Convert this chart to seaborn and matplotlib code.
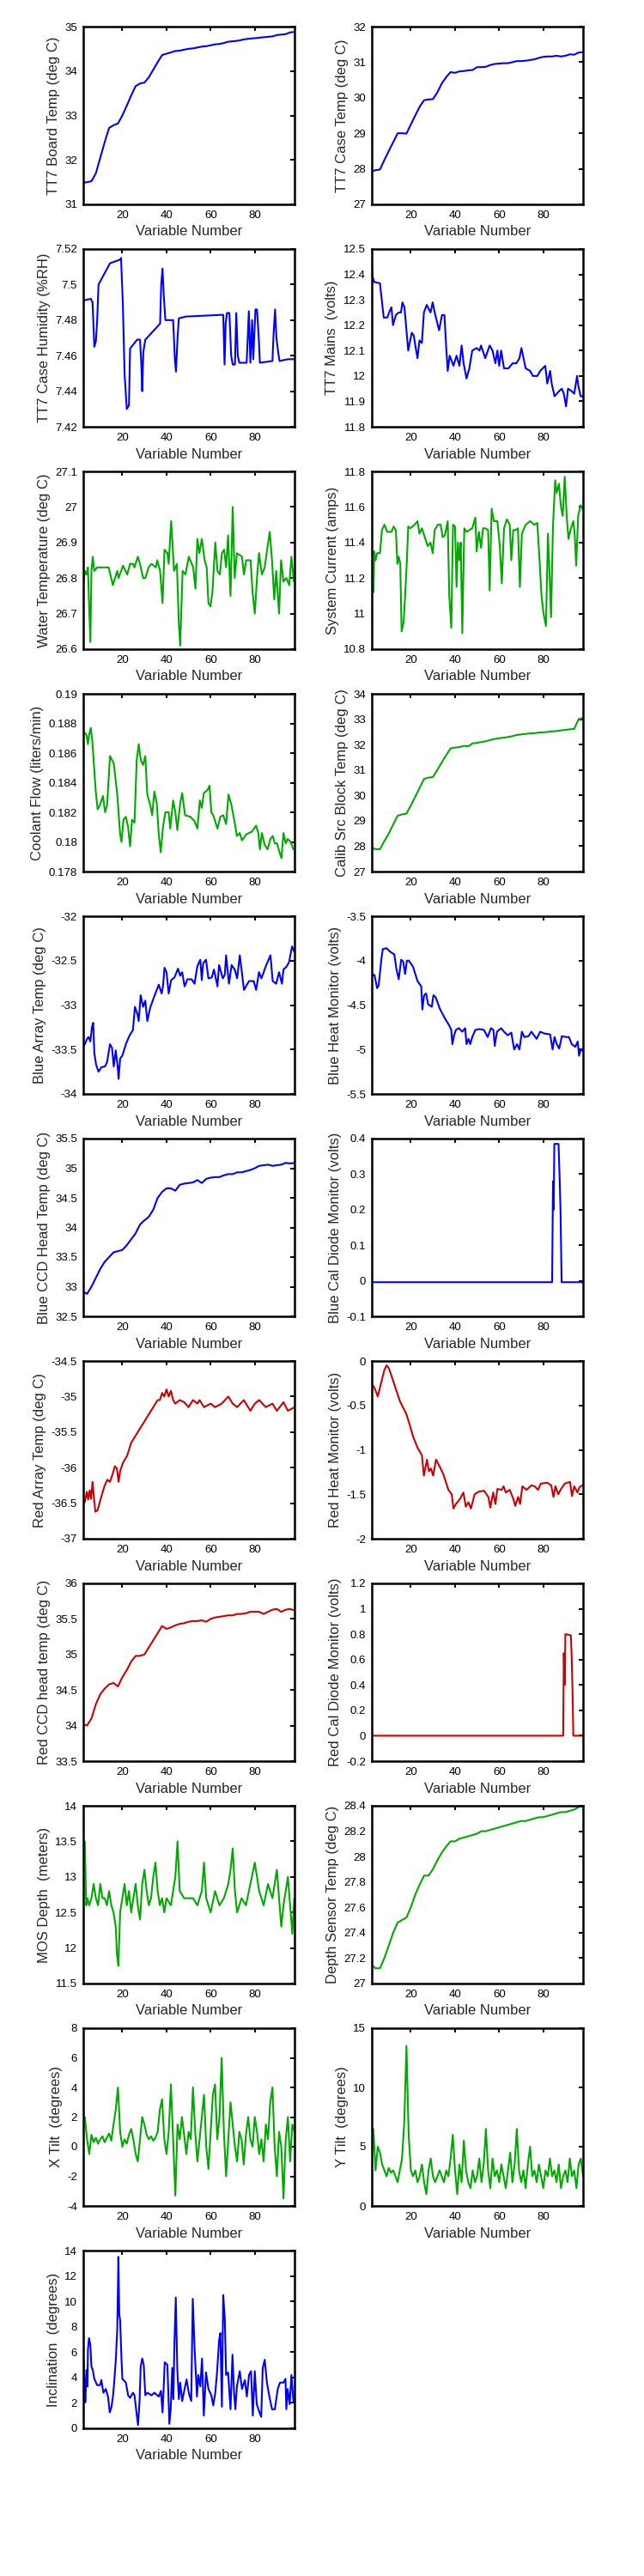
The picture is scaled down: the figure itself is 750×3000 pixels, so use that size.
import numpy as np
import matplotlib
matplotlib.use("Agg")
import matplotlib.pyplot as plt
import seaborn as sns
from matplotlib.ticker import FuncFormatter

sns.set_style("white")
plt.rcParams["font.family"] = ["Liberation Sans", "DejaVu Sans"]
plt.rcParams["axes.unicode_minus"] = False

BLUE = "#0000FF"
GREEN = "#00AA00"
RED = "#CC0000"

# variable number grid for the smooth temperature channels
X2 = np.arange(2, 99, 2)
X1 = np.arange(2, 99)

board_y = [31.48, 31.50, 31.52, 31.70, 32.05, 32.40, 32.72, 32.78, 32.82, 33.00,
           33.22, 33.45, 33.66, 33.72, 33.74, 33.86, 34.03, 34.20, 34.36, 34.39,
           34.42, 34.45, 34.46, 34.48, 34.50, 34.51, 34.53, 34.55, 34.56, 34.58,
           34.60, 34.61, 34.63, 34.66, 34.67, 34.68, 34.70, 34.72, 34.73, 34.74,
           34.75, 34.76, 34.77, 34.78, 34.81, 34.82, 34.83, 34.87, 34.88]

case_y = [27.93, 27.96, 27.98, 28.25, 28.50, 28.75, 29.00, 29.00, 28.99, 29.25,
          29.50, 29.75, 29.93, 29.95, 29.96, 30.15, 30.40, 30.58, 30.72, 30.70,
          30.74, 30.75, 30.77, 30.78, 30.86, 30.86, 30.87, 30.92, 30.95, 30.96,
          30.97, 30.97, 31.00, 31.03, 31.03, 31.04, 31.06, 31.08, 31.12, 31.15,
          31.16, 31.16, 31.18, 31.16, 31.18, 31.22, 31.21, 31.27, 31.28]

hum_x = [2.3, 5.7, 6.5, 7.3, 8.0, 8.6, 9.2, 14.4, 19.0, 19.4,
         20.2, 21.0, 22.0, 23.0, 23.5, 26.7, 28.0, 28.6, 29.0, 29.5,
         30.4, 37.1, 37.6, 38.2, 38.7, 39.5, 43.0, 43.8, 44.3, 45.0,
         45.6, 48.8, 65.7, 66.3, 66.8, 67.4, 68.5, 69.3, 70.0, 71.0,
         71.6, 72.3, 73.0, 76.3, 76.8, 77.3, 78.0, 78.8, 79.3, 80.3,
         81.0, 81.8, 82.3, 88.0, 88.5, 89.2, 89.8, 90.6, 91.2, 95.0,
         97.9]
hum_y = [7.491, 7.492, 7.490, 7.465, 7.468, 7.480, 7.500, 7.512, 7.514, 7.515,
         7.490, 7.450, 7.430, 7.432, 7.464, 7.469, 7.469, 7.455, 7.440, 7.462,
         7.469, 7.478, 7.500, 7.509, 7.495, 7.480, 7.480, 7.458, 7.451, 7.470,
         7.481, 7.482, 7.483, 7.455, 7.478, 7.484, 7.484, 7.460, 7.455, 7.455,
         7.484, 7.460, 7.456, 7.456, 7.470, 7.485, 7.456, 7.480, 7.458, 7.486,
         7.486, 7.470, 7.456, 7.457, 7.472, 7.486, 7.470, 7.462, 7.457, 7.458,
         7.458]

mains_x = [2.1, 2.7, 3.4, 6.0, 7.7, 9.3, 10.6, 11.2, 11.9, 13.2,
           14.5, 15.5, 16.2, 17.1, 17.8, 18.8, 20.4, 21.3, 22.4, 23.0,
           23.9, 25.0, 25.9, 27.2, 28.9, 29.9, 30.8, 32.2, 32.8, 34.1,
           35.2, 36.1, 36.7, 37.6, 39.3, 40.7, 42.0, 43.0, 43.9, 45.2,
           46.5, 47.8, 49.8, 51.1, 51.8, 53.7, 55.7, 57.0, 58.3, 59.2,
           60.0, 60.9, 62.2, 64.2, 66.1, 67.8, 69.2, 70.1, 72.0, 74.0,
           75.3, 77.3, 78.6, 80.9, 81.8, 83.1, 83.8, 85.1, 87.1, 88.4,
           89.3, 90.3, 91.2, 92.9, 94.0, 95.3, 95.9, 96.9, 98.2]
mains_y = [12.45, 12.39, 12.37, 12.365, 12.23, 12.23, 12.26, 12.27, 12.20, 12.24,
           12.25, 12.25, 12.29, 12.27, 12.20, 12.10, 12.17, 12.16, 12.10, 12.07,
           12.14, 12.13, 12.25, 12.28, 12.25, 12.29, 12.25, 12.20, 12.18, 12.24,
           12.24, 12.10, 12.02, 12.08, 12.04, 12.08, 12.04, 12.12, 12.05, 11.99,
           12.03, 12.10, 12.11, 12.10, 12.12, 12.07, 12.12, 12.10, 12.05, 12.10,
           12.04, 12.10, 12.03, 12.03, 12.05, 12.05, 12.07, 12.11, 12.03, 12.02,
           12.00, 12.00, 12.02, 12.04, 11.97, 12.02, 11.97, 11.92, 11.94, 11.95,
           11.93, 11.88, 11.95, 11.94, 11.93, 12.00, 11.96, 11.92, 11.92]

water_x = [2.5, 3.0, 3.8, 4.4, 4.9, 5.5, 6.0, 6.6, 7.3, 8.6,
           13.8, 15.7, 17.7, 18.3, 20.3, 22.2, 23.5, 24.8, 25.5, 27.0,
           28.0, 29.4, 30.4, 31.9, 33.2, 35.2, 35.8, 37.1, 38.2, 39.1,
           40.4, 41.0, 42.1, 42.7, 43.4, 44.7, 45.6, 46.2, 47.3, 48.6,
           50.1, 52.1, 53.1, 54.0, 54.9, 56.0, 57.3, 58.2, 59.0, 59.9,
           60.8, 62.1, 63.1, 64.2, 65.1, 66.1, 67.0, 67.9, 69.0, 70.0,
           70.9, 71.9, 74.2, 75.1, 76.1, 78.1, 79.0, 80.0, 81.0, 81.9,
           83.2, 84.5, 85.8, 86.8, 87.8, 88.8, 89.7, 91.0, 91.9, 93.0,
           94.3, 95.6, 96.6, 97.7]
water_y = [26.79, 26.82, 26.81, 26.83, 26.73, 26.62, 26.82, 26.86, 26.82, 26.83,
           26.83, 26.78, 26.82, 26.80, 26.835, 26.81, 26.84, 26.84, 26.83, 26.86,
           26.84, 26.80, 26.80, 26.83, 26.84, 26.83, 26.85, 26.82, 26.73, 26.88,
           26.87, 26.84, 26.96, 26.90, 26.82, 26.84, 26.67, 26.61, 26.82, 26.81,
           26.86, 26.83, 26.77, 26.91, 26.87, 26.91, 26.85, 26.83, 26.73, 26.72,
           26.76, 26.90, 26.82, 26.81, 26.87, 26.88, 26.83, 26.92, 26.75, 27.00,
           26.80, 26.87, 26.86, 26.81, 26.85, 26.85, 26.76, 26.70, 26.80, 26.87,
           26.81, 26.83, 26.89, 26.93, 26.85, 26.74, 26.82, 26.70, 26.85, 26.79,
           26.80, 26.78, 26.86, 26.79]

cur_x = [2.1, 2.5, 3.1, 3.4, 4.0, 4.7, 6.0, 6.9, 8.0, 9.3,
         11.2, 12.2, 13.2, 13.9, 14.5, 15.2, 15.8, 16.7, 17.4, 18.2,
         18.8, 19.7, 21.7, 23.0, 23.9, 25.0, 26.3, 27.6, 28.9, 29.9,
         30.8, 32.2, 33.5, 34.4, 35.4, 36.7, 37.4, 38.3, 39.1, 40.0,
         40.7, 41.3, 42.0, 42.6, 43.3, 44.2, 45.2, 46.5, 47.8, 49.2,
         49.8, 50.8, 51.8, 52.7, 53.7, 55.0, 55.7, 56.6, 57.6, 59.2,
         60.3, 61.2, 62.2, 63.5, 64.8, 65.5, 66.4, 67.5, 68.5, 69.4,
         70.3, 72.0, 74.0, 75.9, 77.3, 78.3, 79.2, 80.1, 81.2, 82.1,
         82.9, 83.5, 84.4, 85.4, 86.1, 87.1, 88.0, 88.8, 89.7, 90.6,
         91.4, 92.3, 93.6, 94.2, 94.9, 95.8, 96.9, 98.2]
cur_y = [10.96, 11.35, 11.12, 11.35, 11.30, 11.34, 11.34, 11.47, 11.50, 11.46,
         11.46, 11.49, 11.47, 11.28, 11.32, 11.28, 10.90, 10.95, 11.10, 11.30,
         11.49, 11.48, 11.50, 11.52, 11.45, 11.48, 11.43, 11.38, 11.40, 11.34,
         11.47, 11.50, 11.50, 11.43, 11.44, 11.52, 11.10, 10.92, 11.50, 11.49,
         11.15, 11.40, 11.30, 11.40, 10.89, 11.48, 11.46, 11.47, 11.48, 11.54,
         11.35, 11.46, 11.37, 11.48, 11.48, 11.47, 11.13, 11.59, 11.52, 11.52,
         11.38, 11.17, 11.48, 11.53, 11.50, 11.30, 11.47, 11.47, 11.48, 11.15,
         11.45, 11.50, 11.52, 11.50, 11.51, 11.30, 11.10, 11.00, 10.93, 11.45,
         11.20, 10.98, 11.50, 11.75, 11.68, 11.73, 11.60, 11.55, 11.77, 11.55,
         11.42, 11.47, 11.52, 11.45, 11.27, 11.55, 11.61, 11.58]

cool_x = [2.7, 3.8, 4.4, 4.9, 5.7, 6.4, 7.0, 7.9, 8.8, 9.9,
          11.2, 12.2, 13.1, 14.4, 16.1, 17.7, 19.0, 19.6, 20.5, 21.6,
          22.6, 23.5, 24.4, 25.5, 26.5, 27.4, 28.4, 29.4, 30.4, 31.3,
          32.6, 33.5, 34.5, 35.6, 36.5, 37.4, 38.4, 39.5, 41.0, 41.7,
          43.0, 44.0, 44.9, 46.2, 47.1, 48.4, 50.8, 52.7, 54.0, 55.1,
          56.0, 56.9, 58.6, 59.5, 60.3, 61.2, 63.1, 64.4, 65.7, 67.0,
          68.1, 69.4, 70.9, 71.9, 73.2, 74.2, 76.1, 78.7, 80.6, 81.6,
          82.3, 83.2, 84.5, 85.8, 87.1, 88.1, 89.1, 90.1, 91.0, 92.1,
          93.0, 94.0, 94.9, 96.2, 97.5]
cool_y = [0.1874, 0.1872, 0.1866, 0.1872, 0.1877, 0.1868, 0.1855, 0.1835, 0.1822, 0.1825,
          0.1831, 0.1820, 0.1825, 0.1858, 0.1853, 0.1832, 0.1805, 0.1800, 0.1815, 0.1817,
          0.1810, 0.1797, 0.1815, 0.1813, 0.1855, 0.1866, 0.1855, 0.1852, 0.1858, 0.1832,
          0.1825, 0.1818, 0.1834, 0.1826, 0.1805, 0.1793, 0.1810, 0.1820, 0.1820, 0.1809,
          0.1828, 0.1820, 0.1808, 0.1826, 0.1833, 0.1818, 0.1817, 0.1814, 0.1809, 0.1828,
          0.1823, 0.1833, 0.1835, 0.1838, 0.1820, 0.1818, 0.1809, 0.1817, 0.1818, 0.1812,
          0.1832, 0.1825, 0.1813, 0.1804, 0.1806, 0.1801, 0.1805, 0.1807, 0.1811, 0.1806,
          0.1795, 0.1806, 0.1798, 0.1795, 0.1802, 0.1804, 0.1799, 0.1799, 0.1794, 0.1789,
          0.1806, 0.1799, 0.1802, 0.1800, 0.1795]

calib_y = [27.95, 27.88, 27.88, 28.20, 28.50, 28.85, 29.20, 29.25, 29.28, 29.60,
           29.95, 30.30, 30.65, 30.70, 30.72, 31.00, 31.30, 31.58, 31.85, 31.88,
           31.90, 31.95, 31.93, 32.05, 32.07, 32.10, 32.13, 32.18, 32.22, 32.25,
           32.27, 32.30, 32.33, 32.38, 32.40, 32.42, 32.44, 32.45, 32.47, 32.48,
           32.50, 32.52, 32.53, 32.56, 32.58, 32.60, 32.62, 33.00, 33.05]

ba_x = [2.5, 3.0, 4.0, 4.7, 5.5, 6.2, 6.8, 7.3, 8.1, 9.2,
        10.5, 12.2, 13.1, 14.4, 15.3, 16.1, 17.0, 17.9, 18.3, 19.0,
        20.0, 21.6, 23.1, 24.8, 25.7, 26.8, 27.4, 28.3, 29.4, 30.4,
        31.3, 32.6, 34.5, 36.5, 37.8, 38.4, 39.1, 40.0, 41.0, 42.1,
        43.6, 45.2, 46.2, 47.1, 48.2, 49.5, 51.4, 52.7, 54.0, 55.3,
        56.0, 56.6, 57.9, 59.0, 60.5, 61.5, 63.1, 63.8, 64.4, 65.5,
        66.4, 67.0, 68.3, 69.5, 70.9, 72.0, 73.2, 74.0, 75.1, 77.4,
        79.5, 80.6, 81.9, 83.0, 85.2, 87.1, 88.1, 89.7, 91.0, 92.3,
        93.0, 94.3, 95.5, 96.9, 97.9]
ba_y = [-33.45, -33.44, -33.38, -33.36, -33.41, -33.25, -33.20, -33.54, -33.67, -33.75,
        -33.70, -33.69, -33.64, -33.44, -33.48, -33.69, -33.51, -33.70, -33.83, -33.60,
        -33.57, -33.44, -33.35, -33.28, -33.02, -33.10, -33.18, -32.89, -33.02, -32.95,
        -33.18, -33.03, -32.90, -32.77, -32.87, -32.79, -32.58, -32.63, -32.87, -32.72,
        -32.69, -32.59, -32.67, -32.63, -32.79, -32.71, -32.71, -32.76, -32.56, -32.49,
        -32.72, -32.53, -32.49, -32.70, -32.69, -32.60, -32.79, -32.55, -32.60, -32.70,
        -32.66, -32.44, -32.76, -32.55, -32.60, -32.70, -32.44, -32.60, -32.83, -32.73,
        -32.73, -32.83, -32.63, -32.70, -32.55, -32.44, -32.73, -32.76, -32.63, -32.76,
        -32.60, -32.57, -32.52, -32.34, -32.40]

bh_x = [2.1, 3.1, 3.5, 4.7, 5.4, 6.0, 6.7, 7.3, 9.0, 10.6,
        12.5, 13.5, 14.5, 15.6, 16.5, 17.4, 18.2, 19.1, 21.0, 23.0,
        24.7, 25.2, 26.0, 26.9, 27.8, 29.5, 30.2, 31.2, 33.1, 35.4,
        37.4, 38.3, 38.8, 39.6, 40.4, 41.7, 43.3, 44.6, 45.2, 46.1,
        46.9, 47.8, 49.2, 51.1, 53.1, 54.8, 56.3, 57.4, 58.0, 59.0,
        60.9, 62.2, 63.9, 65.5, 66.8, 68.1, 69.2, 70.3, 71.4, 73.3,
        74.6, 77.0, 78.6, 80.5, 83.1, 84.2, 85.1, 86.1, 87.2, 88.4,
        90.3, 91.6, 92.9, 94.5, 95.6, 96.2, 96.9, 98.2]
bh_y = [-4.16, -4.16, -4.16, -4.31, -4.28, -4.14, -3.97, -3.87, -3.86, -3.90,
        -3.93, -4.10, -4.21, -3.99, -4.01, -4.15, -4.00, -4.00, -4.07, -4.23,
        -4.29, -4.55, -4.39, -4.37, -4.49, -4.52, -4.39, -4.41, -4.54, -4.65,
        -4.73, -4.78, -4.94, -4.84, -4.78, -4.76, -4.80, -4.76, -4.94, -4.88,
        -4.94, -4.86, -4.78, -4.77, -4.78, -4.86, -4.76, -4.78, -4.96, -4.80,
        -4.76, -4.80, -4.84, -4.81, -5.00, -4.94, -5.00, -4.80, -4.86, -4.85,
        -4.80, -4.88, -4.80, -4.82, -4.83, -5.00, -4.86, -4.94, -4.99, -4.85,
        -4.86, -4.86, -4.94, -4.97, -4.91, -5.07, -5.00, -5.02]

bccd_y = [32.92, 32.88, 33.00, 33.15, 33.30, 33.42, 33.50, 33.58, 33.60, 33.62,
          33.70, 33.80, 33.90, 34.05, 34.12, 34.18, 34.30, 34.50, 34.60, 34.66,
          34.66, 34.62, 34.72, 34.74, 34.75, 34.76, 34.80, 34.75, 34.82, 34.84,
          34.85, 34.85, 34.88, 34.90, 34.90, 34.93, 34.93, 34.95, 34.97, 35.00,
          35.04, 35.05, 35.06, 35.04, 35.05, 35.06, 35.09, 35.08, 35.09]

bd_x = [2.2, 84.0, 84.4, 84.7, 85.0, 86.9, 87.3, 87.8, 88.3, 98.1]
bd_y = [-0.004, -0.004, 0.28, 0.20, 0.385, 0.385, 0.31, 0.20, -0.004, -0.004]

ra_x = [2.6, 3.0, 3.9, 4.5, 5.2, 5.8, 6.5, 7.1, 7.8, 8.8,
        10.0, 11.9, 13.2, 14.4, 15.7, 16.6, 17.5, 18.3, 19.0, 20.3,
        22.2, 24.0, 26.0, 28.0, 30.0, 32.0, 34.0, 36.0, 37.0, 38.0,
        39.0, 40.0, 41.0, 42.0, 43.0, 44.0, 46.0, 48.0, 50.0, 52.0,
        54.0, 55.0, 57.0, 60.0, 62.0, 65.0, 68.0, 70.0, 72.0, 75.0,
        78.0, 80.0, 82.0, 85.0, 88.0, 90.0, 93.0, 95.0, 98.0]
ra_y = [-36.50, -36.48, -36.34, -36.45, -36.32, -36.44, -36.20, -36.42, -36.62, -36.60,
        -36.46, -36.26, -36.17, -36.20, -36.08, -35.98, -36.01, -36.20, -36.05, -35.93,
        -35.83, -35.65, -35.55, -35.45, -35.35, -35.25, -35.15, -35.05, -35.05, -34.95,
        -35.00, -34.90, -35.00, -34.92, -35.05, -35.10, -35.05, -35.08, -35.15, -35.05,
        -35.10, -35.05, -35.15, -35.10, -35.15, -35.10, -35.00, -35.10, -35.15, -35.05,
        -35.20, -35.10, -35.05, -35.15, -35.10, -35.20, -35.08, -35.20, -35.15]

rh_x = [2.0, 3.5, 5.0, 6.0, 7.0, 8.0, 9.0, 10.0, 11.0, 13.0,
        15.0, 17.0, 18.0, 19.5, 21.0, 23.1, 25.0, 25.9, 27.3, 28.2,
        29.1, 30.1, 31.4, 32.9, 34.8, 37.0, 38.5, 39.3, 40.4, 42.3,
        43.8, 44.9, 46.1, 47.2, 48.9, 50.8, 53.2, 55.1, 56.0, 57.3,
        58.3, 59.2, 61.1, 62.0, 63.0, 64.8, 66.4, 67.3, 68.6, 69.5,
        70.5, 72.4, 74.6, 76.1, 77.6, 78.9, 81.8, 83.6, 84.6, 85.5,
        86.8, 87.8, 89.7, 92.1, 93.0, 94.0, 95.5, 96.4, 97.7, 98.2]
rh_y = [-0.25, -0.30, -0.40, -0.30, -0.20, -0.10, -0.05, -0.08, -0.15, -0.30,
        -0.45, -0.55, -0.60, -0.72, -0.85, -0.98, -1.06, -1.29, -1.11, -1.24,
        -1.21, -1.29, -1.11, -1.18, -1.28, -1.45, -1.50, -1.66, -1.61, -1.55,
        -1.48, -1.64, -1.59, -1.66, -1.50, -1.47, -1.46, -1.53, -1.65, -1.48,
        -1.61, -1.44, -1.45, -1.41, -1.48, -1.45, -1.55, -1.63, -1.53, -1.61,
        -1.41, -1.45, -1.40, -1.41, -1.45, -1.38, -1.37, -1.40, -1.53, -1.41,
        -1.50, -1.45, -1.38, -1.36, -1.52, -1.41, -1.48, -1.42, -1.40, -1.40]

rccd_y = [34.02, 34.00, 34.10, 34.30, 34.44, 34.52, 34.58, 34.60, 34.55, 34.68,
          34.78, 34.90, 34.98, 34.98, 35.00, 35.10, 35.20, 35.30, 35.40, 35.36,
          35.38, 35.41, 35.43, 35.44, 35.46, 35.47, 35.47, 35.48, 35.46, 35.50,
          35.52, 35.53, 35.54, 35.55, 35.55, 35.57, 35.57, 35.58, 35.60, 35.60,
          35.60, 35.57, 35.60, 35.63, 35.64, 35.60, 35.63, 35.64, 35.62]

rd_x = [2.2, 89.0, 89.3, 89.7, 90.0, 92.5, 92.9, 93.3, 93.6, 98.1]
rd_y = [0.0, 0.0, 0.65, 0.40, 0.80, 0.79, 0.60, 0.30, 0.0, 0.0]

mos_x = [2.3, 3.0, 3.6, 4.2, 5.0, 6.0, 7.0, 8.0, 9.0, 10.0,
         11.0, 12.0, 13.0, 14.0, 15.0, 16.0, 17.0, 17.6, 18.2, 19.0,
         20.0, 21.0, 22.0, 23.0, 24.0, 25.0, 26.0, 27.0, 28.0, 29.0,
         30.0, 31.0, 32.0, 33.0, 34.0, 35.0, 36.0, 37.0, 38.0, 39.0,
         40.0, 42.0, 44.0, 45.0, 46.0, 48.0, 50.0, 52.0, 54.0, 56.0,
         57.0, 58.0, 60.0, 62.0, 64.0, 66.0, 68.0, 69.0, 70.0, 71.0,
         72.0, 74.0, 76.0, 78.0, 80.0, 82.0, 84.0, 86.0, 88.0, 90.0,
         91.0, 92.0, 93.0, 94.0, 95.0, 96.0, 97.0, 97.9]
mos_y = [13.3, 13.5, 12.6, 12.7, 12.6, 12.7, 12.9, 12.7, 12.6, 12.9,
         12.7, 12.7, 12.6, 12.8, 12.6, 12.5, 12.3, 11.9, 11.75, 12.5,
         12.7, 12.9, 12.6, 12.8, 12.5, 12.7, 12.9, 12.6, 12.4, 12.9,
         13.1, 12.8, 12.6, 12.7, 13.0, 13.2, 12.8, 12.6, 12.7, 12.5,
         12.7, 12.6, 13.0, 13.5, 12.8, 12.7, 12.7, 12.7, 12.6, 12.8,
         13.2, 12.7, 12.5, 12.8, 12.6, 12.7, 12.9, 13.1, 13.4, 12.8,
         12.5, 12.7, 12.6, 12.9, 13.2, 12.8, 12.6, 12.9, 12.7, 13.1,
         12.7, 12.3, 12.6, 12.8, 13.0, 12.6, 12.2, 12.7]

dst_y = [27.15, 27.12, 27.12, 27.20, 27.30, 27.40, 27.48, 27.50, 27.52, 27.60,
         27.70, 27.78, 27.85, 27.85, 27.90, 27.97, 28.03, 28.08, 28.12, 28.12,
         28.14, 28.15, 28.16, 28.17, 28.18, 28.20, 28.20, 28.21, 28.22, 28.23,
         28.24, 28.25, 28.26, 28.27, 28.28, 28.28, 28.29, 28.30, 28.31, 28.31,
         28.32, 28.33, 28.34, 28.35, 28.35, 28.36, 28.37, 28.39, 28.40]

xtilt_y = [1.0, 2.0, 0.5, -0.5, 0.8, 0.3, 0.6, 0.2, 0.5,
           0.7, 0.3, 0.6, 0.9, 0.4, 1.5, 2.5, 4.0, 1.0, 0.0,
           0.5, 0.2, 0.8, 1.2, 0.5, -0.5, -1.0, 0.5, 2.0, 1.5,
           0.8, 0.5, 0.7, 0.4, 0.6, 1.0, 2.5, 3.2, 0.5, -0.5,
           1.0, 4.2, 0.5, -3.3, 1.5, 0.5, 2.0, 0.8, -0.5, 1.0,
           0.5, 4.0, 1.0, -1.0, 0.5, 2.0, 3.5, 0.0, -1.5, 1.0,
           3.5, 4.2, 0.5, 2.0, 6.0, 1.0, -2.0, 0.5, 3.0, 1.5,
           0.0, -1.0, 1.0, 0.5, -1.2, 0.8, 2.0, 0.5, 0.0, 2.0,
           1.0, -0.5, 0.5, -1.0, 1.5, 0.5, 3.0, 4.0, 0.0, -2.0,
           1.0, 0.0, -3.5, 0.5, 2.0, -1.0, 1.5, 1.0]

ytilt_y = [4.0, 6.5, 3.0, 5.0, 4.5, 3.5, 3.0, 2.5, 3.2,
           2.8, 3.0, 2.5, 2.0, 3.0, 4.0, 7.0, 13.5, 6.0, 3.0,
           2.5, 3.0, 2.0, 2.5, 3.5, 2.0, 1.0, 3.0, 4.0, 2.5,
           2.0, 2.5, 3.0, 2.5, 2.0, 3.0, 2.5, 4.0, 6.0, 3.0,
           1.0, 3.5, 2.0, 5.5, 3.0, 2.0, 1.5, 3.0, 2.0, 2.5,
           4.0, 2.0, 3.5, 6.5, 3.0, 1.5, 4.0, 2.5, 3.0, 2.0,
           3.5, 2.5, 1.5, 3.0, 4.5, 2.0, 3.5, 6.5, 3.0, 2.0,
           3.0, 1.5, 3.5, 5.0, 2.5, 3.0, 2.0, 3.5, 2.5, 1.5,
           3.0, 2.5, 4.0, 2.5, 3.0, 2.0, 3.5, 1.5, 2.5, 3.0,
           2.0, 4.0, 2.5, 3.0, 1.5, 3.5, 4.0, 2.5]

inc_x = [2.5, 2.9, 3.2, 3.8, 4.2, 4.4, 4.9, 5.5, 6.0, 6.6,
         7.3, 8.6, 9.9, 10.5, 11.4, 12.5, 13.5, 14.3, 15.1, 15.8,
         16.4, 17.0, 17.7, 18.2, 18.6, 19.0, 19.6, 20.0, 21.6, 22.6,
         23.5, 24.8, 25.5, 26.4, 27.1, 27.8, 28.3, 29.0, 29.7, 30.4,
         31.3, 33.2, 34.5, 36.5, 37.5, 38.2, 38.7, 39.2, 40.4, 41.3,
         41.9, 42.6, 43.1, 43.6, 44.2, 44.9, 45.6, 46.2, 47.1, 48.2,
         49.1, 50.1, 51.2, 51.9, 52.7, 53.8, 54.4, 55.3, 56.1, 56.9,
         57.9, 59.0, 60.3, 61.2, 62.1, 62.9, 63.8, 64.4, 65.1, 65.7,
         66.4, 67.0, 67.9, 69.0, 69.9, 70.6, 71.2, 71.9, 73.2, 74.2,
         75.5, 76.4, 77.4, 78.3, 79.1, 80.0, 80.9, 81.9, 82.9, 83.6,
         84.5, 85.5, 86.5, 87.8, 89.1, 90.4, 91.4, 93.0, 93.9, 94.3,
         94.9, 95.8, 96.6, 97.5]
inc_y = [5.3, 3.5, 2.05, 4.6, 3.3, 6.2, 7.1, 6.55, 4.85, 4.6,
         3.9, 3.4, 3.4, 3.8, 2.8, 3.1, 2.5, 1.25, 1.7, 2.6,
         3.85, 5.3, 7.8, 13.5, 9.0, 8.5, 5.5, 3.9, 3.6, 2.6,
         2.4, 2.8, 2.6, 1.25, 0.25, 2.15, 4.85, 5.5, 5.0, 2.6,
         2.8, 2.6, 2.8, 2.5, 2.95, 1.25, 3.1, 5.2, 5.0, 0.35,
         1.5, 4.75, 2.3, 6.7, 10.3, 4.6, 2.3, 3.6, 2.15, 3.1,
         3.85, 2.8, 2.15, 10.2, 6.4, 2.5, 4.2, 3.3, 5.5, 1.0,
         4.4, 3.1, 2.6, 1.8, 2.8, 4.4, 6.9, 7.5, 1.7, 10.5,
         8.7, 4.2, 4.4, 1.5, 5.8, 2.8, 1.5, 3.3, 4.5, 3.1,
         3.8, 2.5, 4.2, 4.5, 1.0, 4.5, 1.9, 1.35, 0.9, 4.75,
         5.4, 3.6, 2.6, 1.5, 1.5, 3.1, 3.6, 3.6, 3.9, 1.5,
         3.1, 1.9, 4.2, 2.15]

# (row, col, x, y, colour, y label, y limits, y tick step)
panels = [
    (0, 0, X2, board_y, BLUE, "TT7 Board Temp (deg C)", (31, 35), 1),
    (0, 1, X2, case_y, BLUE, "TT7 Case Temp (deg C)", (27, 32), 1),
    (1, 0, hum_x, hum_y, BLUE, "TT7 Case Humidity (%RH)", (7.42, 7.52), 0.02),
    (1, 1, mains_x, mains_y, BLUE, "TT7 Mains  (volts)", (11.8, 12.5), 0.1),
    (2, 0, water_x, water_y, GREEN, "Water Temperature (deg C)", (26.6, 27.1), 0.1),
    (2, 1, cur_x, cur_y, GREEN, "System Current (amps)", (10.8, 11.8), 0.2),
    (3, 0, cool_x, cool_y, GREEN, "Coolant Flow (liters/min)", (0.178, 0.19), 0.002),
    (3, 1, X2, calib_y, GREEN, "Calib Src Block Temp (deg C)", (27, 34), 1),
    (4, 0, ba_x, ba_y, BLUE, "Blue Array Temp (deg C)", (-34, -32), 0.5),
    (4, 1, bh_x, bh_y, BLUE, "Blue Heat Monitor (volts)", (-5.5, -3.5), 0.5),
    (5, 0, X2, bccd_y, BLUE, "Blue CCD Head Temp (deg C)", (32.5, 35.5), 0.5),
    (5, 1, bd_x, bd_y, BLUE, "Blue Cal Diode Monitor (volts)", (-0.1, 0.4), 0.1),
    (6, 0, ra_x, ra_y, RED, "Red Array Temp (deg C)", (-37, -34.5), 0.5),
    (6, 1, rh_x, rh_y, RED, "Red Heat Monitor (volts)", (-2, 0), 0.5),
    (7, 0, X2, rccd_y, RED, "Red CCD head temp (deg C)", (33.5, 36), 0.5),
    (7, 1, rd_x, rd_y, RED, "Red Cal Diode Monitor (volts)", (-0.2, 1.2), 0.2),
    (8, 0, mos_x, mos_y, GREEN, "MOS Depth  (meters)", (11.5, 14), 0.5),
    (8, 1, X2, dst_y, GREEN, "Depth Sensor Temp (deg C)", (27, 28.4), 0.2),
    (9, 0, X1, xtilt_y, GREEN, "X Tilt  (degrees)", (-4, 8), 2),
    (9, 1, X1, ytilt_y, GREEN, "Y Tilt  (degrees)", (0, 15), 5),
    (10, 0, inc_x, inc_y, BLUE, "Inclination  (degrees)", (0, 14), 2),
]

fmt = FuncFormatter(lambda v, p: "%g" % (round(v, 6) + 0.0))

fig = plt.figure(figsize=(7.5, 30), dpi=100)
W, H = 750.0, 3000.0
for row, col, xs, ys, color, label, (lo, hi), step in panels:
    assert len(xs) == len(ys), label
    left = 97 if col == 0 else 433
    top = 31 + 259 * row
    ax = fig.add_axes([left / W, 1 - (top + 207) / H, 246 / W, 207 / H])
    sns.lineplot(x=np.asarray(xs, dtype=float), y=np.asarray(ys, dtype=float), ax=ax,
                 color=color, linewidth=1.5, estimator=None, sort=False)
    ax.set_xlim(2.3, 98.0)
    ax.set_ylim(lo, hi)
    ax.set_xticks([20, 40, 60, 80])
    ax.set_yticks(np.round(np.arange(lo, hi + step / 2, step), 6))
    ax.yaxis.set_major_formatter(fmt)
    ax.tick_params(direction="in", top=True, right=True, length=3.5, width=1.4,
                   labelsize=9.5, pad=5, colors="black")
    for sp in ax.spines.values():
        sp.set_linewidth(1.8)
        sp.set_color("black")
    ax.set_xlabel("Variable Number", fontsize=12)
    ax.set_ylabel(label, fontsize=12)

fig.savefig("out.png", dpi=100)
